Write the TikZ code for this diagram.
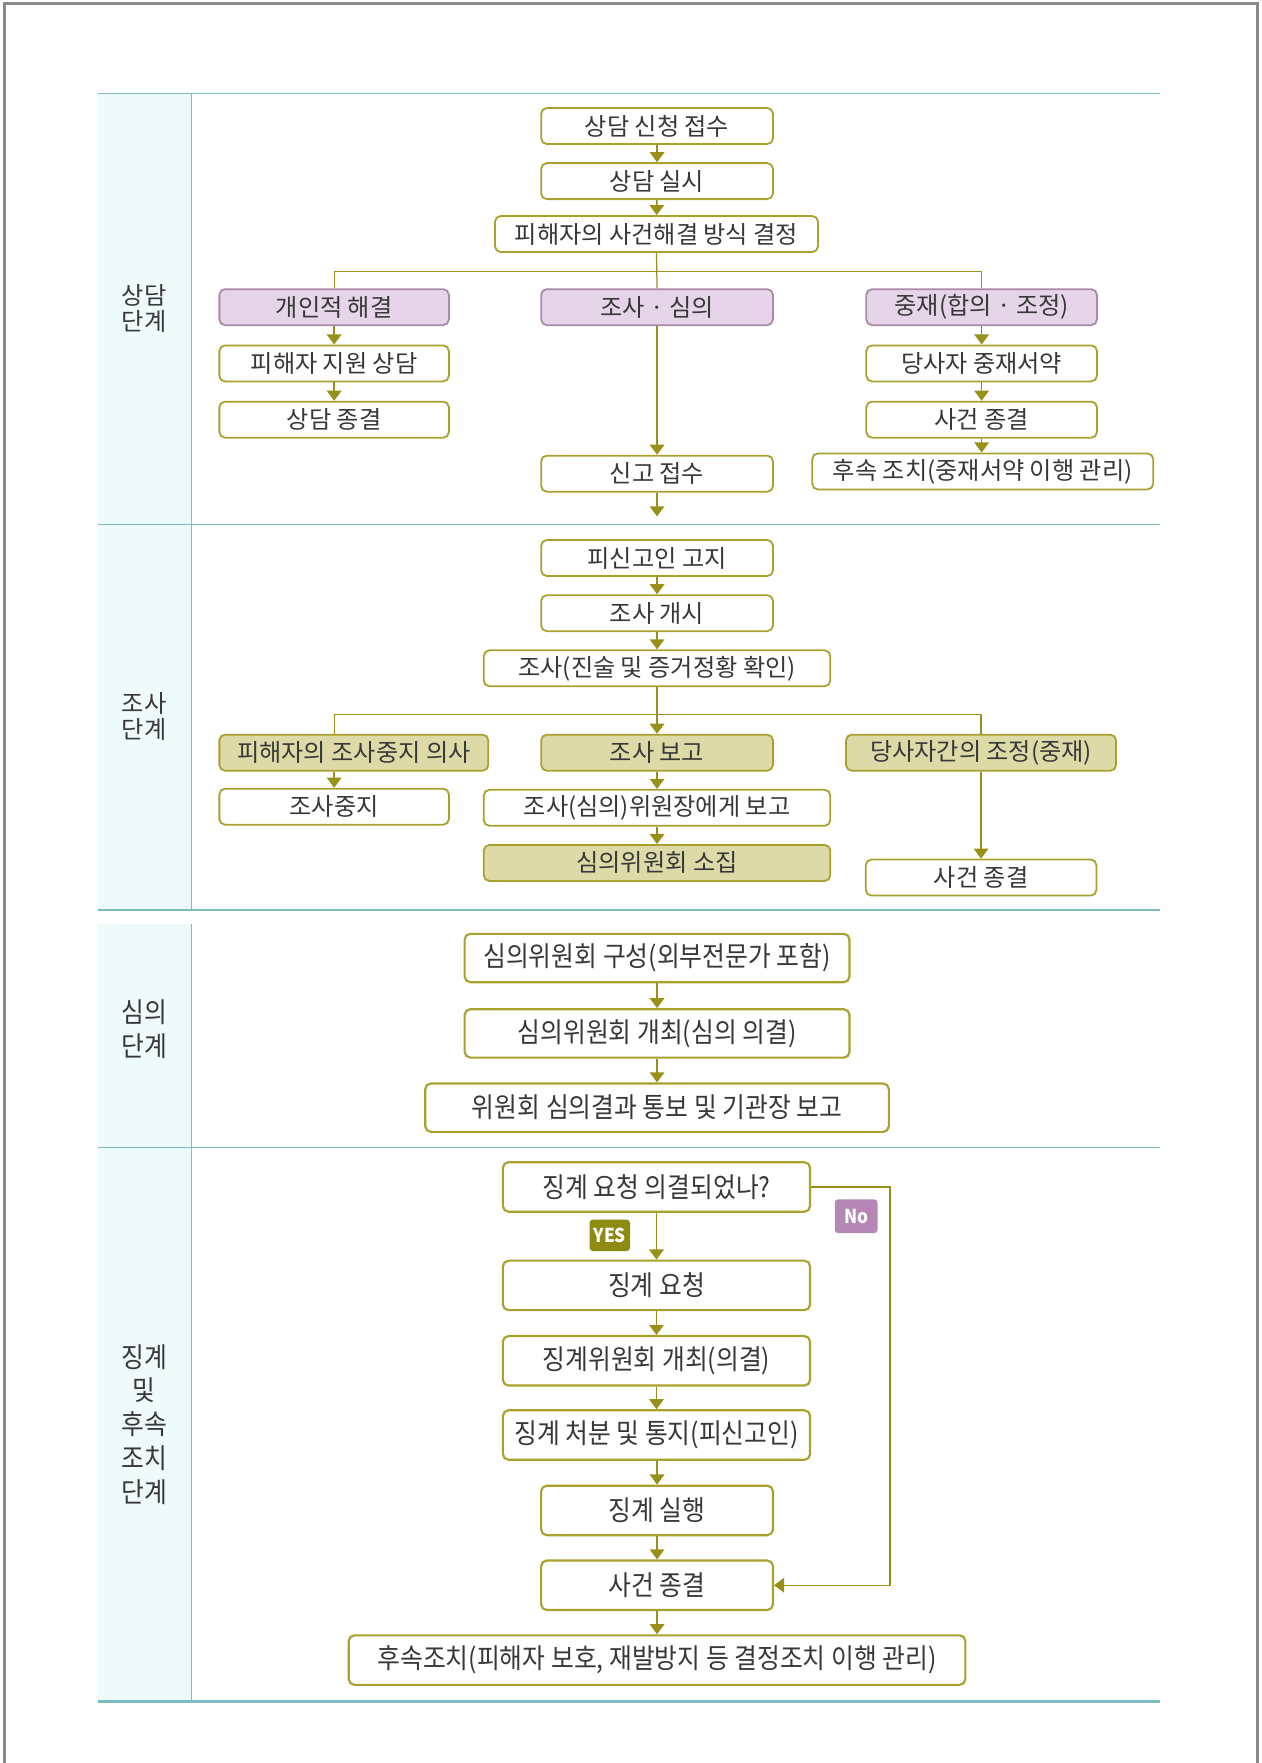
\documentclass[tikz,border=0pt]{standalone}
\usepackage{fontspec}
\setmainfont{Noto Sans CJK KR}
\newfontfamily\krn{Noto Sans CJK KR}[FakeStretch=0.9]
\usetikzlibrary{arrows.meta,calc}
\definecolor{boxc}{HTML}{A9A12E}
\definecolor{arrc}{HTML}{989018}
\definecolor{purf}{HTML}{E6D4E8}
\definecolor{purd}{HTML}{A98BA9}
\definecolor{khaki}{HTML}{DEDAA8}
\definecolor{teal}{HTML}{7CBCBF}
\definecolor{panel}{HTML}{EFFAFB}
\definecolor{txt}{HTML}{383838}
\definecolor{frm}{HTML}{8A8A8A}
\definecolor{yesc}{HTML}{8E8A12}
\definecolor{noc}{HTML}{B487B4}
\newcommand{\fsa}{\fontsize{21.5}{23}\selectfont}
\newcommand{\fsb}{\krn\fontsize{24.5}{27}\selectfont}
\begin{document}
\begin{tikzpicture}[x=1pt,y=-1pt,
  box/.style={draw=boxc, line width=1.6pt, rounded corners=5pt, fill=white, inner sep=0pt, text=txt, font=\fsa, align=center, minimum height=32pt},
  pbox/.style={box, fill=purf, draw=purd},
  kbox/.style={box, fill=khaki},
  bbox/.style={box, font=\fsb, line width=1.9pt, minimum height=43pt},
  arr/.style={draw=arrc, line width=1.3pt, -{Triangle[width=13pt,length=9pt]}},
  conn/.style={draw=arrc, line width=1.1pt},
  seclab/.style={text=txt, font=\fsa, align=center},
  seclabb/.style={text=txt, font=\fsb, align=center},
  badge/.style={rounded corners=3pt, inner sep=0pt, text=white, font=\krn\fontsize{17}{18}\selectfont\bfseries}
]
\useasboundingbox (0,0) rectangle (1121,1567);
% frame
\draw[frm, line width=2.7pt] (4,1567) -- (4,3) -- (1118,3) -- (1118,1567);
% panels
\fill[panel] (87,83) rectangle (170,466);
\fill[panel] (87,466) rectangle (170,809);
\fill[panel] (87,821) rectangle (170,1020);
\fill[panel] (87,1020) rectangle (170,1512);
\draw[teal, line width=1.2pt] (170,83) -- (170,809);
\draw[teal, line width=1.2pt] (170,821) -- (170,1512);
\draw[teal, line width=1.4pt] (87,83) -- (1031,83);
\draw[teal, line width=1.4pt] (87,466) -- (1031,466);
\draw[teal, line width=1.4pt] (87,809) -- (1031,809);
\draw[teal, line width=1.4pt] (87,1020) -- (1031,1020);
\draw[teal, line width=2.6pt] (87,1512) -- (1031,1512);
% section labels
\node[seclab] (lab1) at (128,274) {상담\\단계};
\node[seclab] (lab2) at (128,637) {조사\\단계};
\node[seclabb, align=center] (lab3) at (128,915) {심의\\[3pt]단계};
\node[seclabb, align=center] (lab4) at (128,1266) {징계\\[3pt]및\\[3pt]후속\\[3pt]조치\\[3pt]단계};
% section 1
\node[box, minimum width=206pt] (a1) at (584,112) {상담 신청 접수};
\node[box, minimum width=206pt] (a2) at (584,161) {상담 실시};
\node[box, minimum width=287pt] (a3) at (583.5,208) {피해자의 사건해결 방식 결정};
\node[pbox, minimum width=204pt] (b1) at (297,273) {개인적 해결};
\node[pbox, minimum width=206pt] (b2) at (584,273) {조사 · 심의};
\node[pbox, minimum width=205pt] (b3) at (872.5,273) {중재(합의 · 조정)};
\node[box, minimum width=204pt] (c1) at (297,323) {피해자 지원 상담};
\node[box, minimum width=204pt] (c2) at (297,373) {상담 종결};
\node[box, minimum width=205pt] (d1) at (872.5,323) {당사자 중재서약};
\node[box, minimum width=205pt] (d2) at (872.5,373) {사건 종결};
\node[box, minimum width=303pt] (d3) at (873.5,419) {후속 조치(중재서약 이행 관리)};
\node[box, minimum width=206pt] (e) at (584,421) {신고 접수};
\coordinate (eend) at (584,459);
\coordinate (br1) at (584,241);
\draw[arr] (a1) -- (a2);
\draw[arr] (a2) -- (a3);
\draw[conn] (a3.south) -- (b2.north);
\draw[conn] (b1.north) |- (br1) -| (b3.north);
\draw[arr] (b1) -- (c1);
\draw[arr] (c1) -- (c2);
\draw[arr] (b3) -- (d1);
\draw[arr] (d1) -- (d2);
\draw[arr] (d2.south) -- (d2.south |- d3.north);
\draw[arr] (b2) -- (e);
\draw[arr] (e) -- (eend);
% section 2
\node[box, minimum width=206pt] (f1) at (584,496) {피신고인 고지};
\node[box, minimum width=206pt] (f2) at (584,545) {조사 개시};
\node[box, minimum width=308pt] (f3) at (584,594) {조사(진술 및 증거정황 확인)};
\node[kbox, minimum width=239pt] (g1) at (314.5,669) {피해자의 조사중지 의사};
\node[kbox, minimum width=206pt] (g2) at (584,669) {조사 보고};
\node[kbox, minimum width=240pt] (g3) at (872,669) {당사자간의 조정(중재)};
\node[box, minimum width=204pt] (h1) at (297,717) {조사중지};
\node[box, minimum width=308pt] (h2) at (584,718) {조사(심의)위원장에게 보고};
\node[kbox, minimum width=308pt] (h3) at (584,767) {심의위원회 소집};
\node[box, minimum width=205pt] (i3) at (872,780) {사건 종결};
\coordinate (br2) at (584,635);
\draw[arr] (f1) -- (f2);
\draw[arr] (f2) -- (f3);
\draw[arr] (f3) -- (g2);
\draw[conn] (g1.north -| h1.north) |- (br2) -| (g3.north);
\draw[arr] (g1.south -| h1.north) -- (h1.north);
\draw[arr] (g2) -- (h2);
\draw[arr] (h2) -- (h3);
\draw[arr] (g3) -- (i3);
% section 3
\node[bbox, minimum width=342pt] (j1) at (584,851.5) {심의위원회 구성(외부전문가 포함)};
\node[bbox, minimum width=342pt] (j2) at (584,918.5) {심의위원회 개최(심의 의결)};
\node[bbox, minimum width=412pt] (j3) at (584,984.5) {위원회 심의결과 통보 및 기관장 보고};
\draw[arr] (j1) -- (j2);
\draw[arr] (j2) -- (j3);
% section 4
\node[bbox, minimum width=273pt, minimum height=44pt] (k1) at (583.5,1055) {징계 요청 의결되었나?};
\node[bbox, minimum width=273pt, minimum height=44pt] (k2) at (583.5,1142.5) {징계 요청};
\node[bbox, minimum width=273pt, minimum height=44pt] (k3) at (583.5,1209.5) {징계위원회 개최(의결)};
\node[bbox, minimum width=273pt, minimum height=44pt] (k4) at (583.5,1275.5) {징계 처분 및 통지(피신고인)};
\node[bbox, minimum width=206pt, minimum height=44pt] (k5) at (584,1342.5) {징계 실행};
\node[bbox, minimum width=206pt, minimum height=44pt] (k6) at (584,1409) {사건 종결};
\node[bbox, minimum width=548pt, minimum height=44pt] (k7) at (584,1475.5) {후속조치(피해자 보호, 재발방지 등 결정조치 이행 관리)};
\node[badge, fill=yesc, minimum width=36pt, minimum height=28pt] (yes) at (542,1098) {YES};
\node[badge, fill=noc, minimum width=38pt, minimum height=30pt] (no) at (761,1081) {No};
\coordinate (nox) at (791,1055);
\draw[arr] (k1.south -| k2.north) -- (k2.north);
\draw[arr] (k2.south -| k3.north) -- (k3.north);
\draw[arr] (k3.south -| k4.north) -- (k4.north);
\draw[arr] (k4.south -| k5.north) -- (k5.north);
\draw[arr] (k5) -- (k6);
\draw[arr] (k6) -- (k7);
\draw[arr] (k1.east) -- (nox) |- (k6.east);
\end{tikzpicture}
\end{document}
